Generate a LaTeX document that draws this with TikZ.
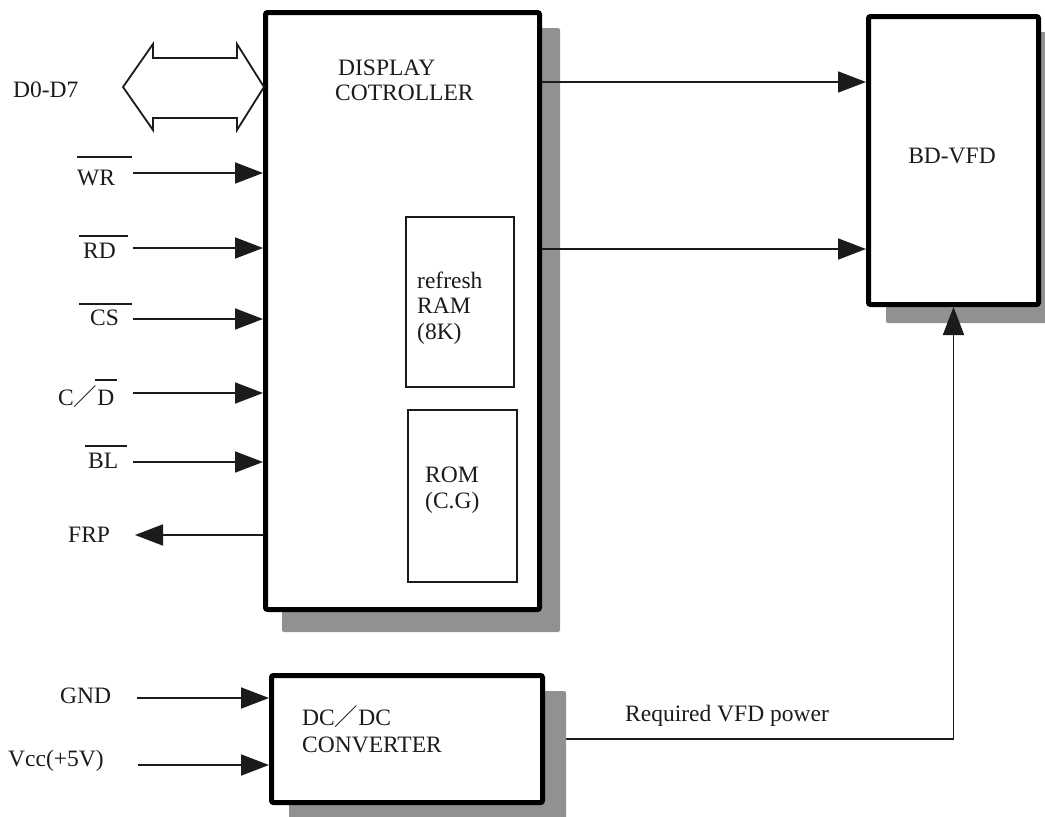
\documentclass[tikz,border=0pt]{standalone}
\usepackage{fontspec}
\setmainfont{Liberation Serif}
\newfontfamily\cjk{Noto Sans CJK SC}
\usetikzlibrary{arrows.meta,calc}
\pgfdeclarelayer{bg}
\pgfdeclarelayer{sh}
\pgfsetlayers{bg,sh,main}
\definecolor{shadowc}{RGB}{145,145,145}
\definecolor{ink}{RGB}{28,26,26}
\begin{document}
\begin{tikzpicture}[x=1pt,y=-1pt,
  every node/.style={font=\fontsize{23.5}{26}\selectfont, inner sep=0pt},
  bigbox/.style={draw=black, line width=5pt, fill=white, rounded corners=2pt},
  memb/.style={draw=ink, line width=1.8pt, fill=white},
  wire/.style={draw=ink, line width=1.8pt},
  arr/.style={wire, -{Triangle[length=28pt,width=21pt]}},
  ovl/.style={draw=ink, line width=1.5pt},
  lbl/.style={anchor=base west, text=ink},
  shade/.style={fill=shadowc, rounded corners=2pt}
]
\useasboundingbox (0,0) rectangle (1045,817);

% boxes
\node[bigbox, minimum width=274pt, minimum height=597pt] (main) at (402.5,311) {};
\node[bigbox, minimum width=170pt, minimum height=288pt] (bd) at (953.5,160.5) {};
\node[bigbox, minimum width=271pt, minimum height=127pt] (dc) at (407,739) {};
\node[memb, minimum width=108pt, minimum height=170pt] (ram) at (460,302) {};
\node[memb, minimum width=109pt, minimum height=172pt] (rom) at (462.5,496) {};

% shadows
\begin{pgfonlayer}{sh}
\fill[shade] ($(main.north west)+(19,18)$) rectangle ($(main.south east)+(18,20)$);
\fill[shade] ($(bd.north west)+(20,18)$) rectangle ($(bd.south east)+(19,16)$);
\fill[shade] ($(dc.north west)+(20,18)$) rectangle ($(dc.south east)+(21,20)$);
\end{pgfonlayer}

% texts in boxes
\node[lbl] (tdisp) at (338,75) {DISPLAY};
\node[lbl] (tcot) at (335,100) {COTROLLER};
\node[lbl] (tref) at (417,288) {refresh};
\node[lbl] (tram) at (417,313) {RAM};
\node[lbl] (t8k) at (417,339) {(8K)};
\node[lbl] (trom) at (425,482) {ROM};
\node[lbl] (tcg) at (425,508) {(C.G)};
\node[anchor=base, text=ink] (tbd) at (952,163) {BD-VFD};
\node[lbl] (tdc1) at (302,725) {DC{\cjk ／}DC};
\node[lbl] (tdc2) at (302,752) {CONVERTER};

% left labels
\node[lbl] (ld) at (13,97) {D0-D7};
\node[lbl] (lwr) at (77,185) {WR};
\node[lbl] (lrd) at (83,258) {RD};
\node[lbl] (lcs) at (90,325) {CS};
\node[lbl] (lcd) at (58,405) {C{\cjk ／}D};
\node[lbl] (lbl) at (88,468) {BL};
\node[lbl] (lfrp) at (68,542) {FRP};
\node[lbl] (lgnd) at (60,703) {GND};
\node[lbl] (lvcc) at (8,766) {Vcc(+5V)};
\node[lbl] (lreq) at (625,721) {Required VFD power};

% overlines
\draw[ovl] (77,157) -- (132,157);
\draw[ovl] (79,236) -- (128,236);
\draw[ovl] (79,304) -- (132,304);
\draw[ovl] (95,380) -- (117,380);
\draw[ovl] (85,446) -- (127,446);

% data bus double arrow
\draw[wire, line join=miter]
  (123,87) -- (153,44) -- (153,58) -- (237,58) -- (237,44) -- (264,87)
  -- (237,130) -- (237,118) -- (153,118) -- (153,130) -- cycle;

% input arrows
\coordinate (cwr) at (133,173);
\coordinate (crd) at (133,248);
\coordinate (ccs) at (133,319);
\coordinate (ccd) at (133,393);
\coordinate (cbl) at (133,462);
\coordinate (cfrp) at (135,535);
\draw[arr] (cwr) -- (cwr -| main.west);
\draw[arr] (crd) -- (crd -| main.west);
\draw[arr] (ccs) -- (ccs -| main.west);
\draw[arr] (ccd) -- (ccd -| main.west);
\draw[arr] (cbl) -- (cbl -| main.west);
\draw[arr] (cfrp -| main.west) -- (cfrp);

\coordinate (cgnd) at (137,698);
\coordinate (cvcc) at (138,765);
\draw[arr] (cgnd) -- (cgnd -| dc.west);
\draw[arr] (cvcc) -- (cvcc -| dc.west);

% controller to display
\coordinate (o1) at (0,82);
\coordinate (o2) at (0,249);
\draw[arr] (o1 -| main.east) -- (o1 -| bd.west);
\draw[arr] (o2 -| main.east) -- (o2 -| bd.west);

% power
\coordinate (pc) at (dc.east -| bd.south);
\begin{pgfonlayer}{bg}
\draw[wire] (dc.east) -- (pc);
\end{pgfonlayer}
\draw[arr] (pc) -- (bd.south);
\end{tikzpicture}
\end{document}
